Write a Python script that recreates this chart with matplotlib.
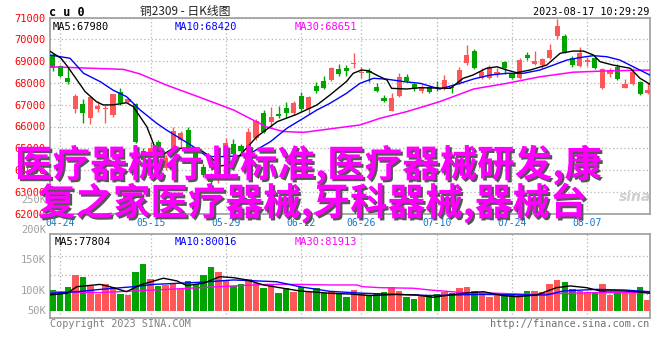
import numpy as np
import pandas as pd
import matplotlib
matplotlib.use("Agg")
from matplotlib import pyplot as plt
from matplotlib import patheffects as pe

# trading calendar (SHFE, closed on May Day and Dragon Boat holidays)
HOLIDAYS = ["2023-05-01", "2023-05-02", "2023-05-03", "2023-06-22", "2023-06-23"]
dates = [d.strftime("%m-%d") for d in pd.bdate_range("2023-04-21", "2023-08-17")
         if d.strftime("%Y-%m-%d") not in HOLIDAYS]
tick_labels = ["04-24", "05-15", "05-29", "06-12", "06-26", "07-10", "07-24", "08-07"]

opens = [69280, 68780, 68240, 66800, 67020, 66380, 66800, 66810, 66530, 67580,
         67140, 67020, 64880, 64770, 65300, 64100, 65030, 65380, 65840, 64770,
         64160, 63780, 63780, 64620, 65180, 65120, 64690, 65460, 66630, 66220,
         66570, 66840, 66610, 67400, 66790, 67860, 68090, 68130, 68620, 68670,
         68870, 68440, 68550, 67800, 67310, 66730, 67400, 68260, 67940, 67640,
         67800, 67800, 67720, 67800, 67980, 68930, 69460, 68240, 68240, 68410,
         68950, 68400, 68240, 69280, 68870, 68820, 69160, 70170, 70150, 69130,
         68790, 68970, 69160, 67780, 68400, 68740, 67780, 67940, 68030, 67550]
highs = [69350, 68820, 68680, 67490, 67260, 67400, 67170, 66990, 67500, 67750,
         67370, 67100, 65000, 65300, 65400, 64700, 65990, 65800, 66000, 64850,
         64300, 63850, 64700, 65460, 65440, 65200, 65920, 66350, 66760, 66910,
         66940, 67140, 67150, 67590, 67420, 68050, 68320, 68720, 68870, 68840,
         69390, 68740, 68670, 67980, 67450, 67520, 68470, 68410, 68010, 67890,
         67860, 68090, 68360, 67900, 68750, 69740, 69540, 68670, 68800, 68670,
         69000, 68450, 69130, 69400, 69450, 69150, 69770, 70930, 70230, 69250,
         69630, 69210, 69200, 68700, 68700, 68850, 68170, 68670, 68100, 67980]
lows = [68560, 68250, 67950, 66620, 66180, 66120, 66650, 66180, 66420, 67000,
        67100, 65230, 64300, 64700, 64600, 64000, 64950, 65070, 64800, 64350,
        63700, 63160, 63390, 64500, 64650, 64800, 64600, 65400, 65700, 66000,
        66380, 66380, 66550, 66700, 66570, 67520, 67700, 68080, 68320, 68320,
        68670, 68210, 68060, 67600, 67140, 66700, 67350, 68050, 67620, 67520,
        67550, 67640, 67680, 67520, 67930, 68820, 68650, 68200, 68180, 68290,
        68400, 68180, 68200, 69050, 68820, 68670, 69100, 70010, 69360, 68750,
        68750, 68790, 68640, 67720, 68290, 68150, 67760, 67900, 67450, 67500]
closes = [68680, 68320, 68060, 67410, 66600, 67370, 66940, 66830, 67480, 67060,
          67280, 65300, 64470, 65000, 64770, 64560, 65790, 65720, 64920, 64460,
          63780, 63470, 64620, 65230, 64730, 64890, 65760, 66270, 65760, 66450,
          66480, 66610, 67090, 66790, 67370, 67640, 67780, 68670, 68410, 68560,
          68930, 68510, 68440, 67640, 67180, 67330, 68260, 68090, 67710, 67800,
          67600, 67750, 68130, 67780, 68590, 69280, 68700, 68490, 68740, 68490,
          68670, 68240, 69050, 69130, 69010, 69100, 69510, 70610, 69430, 68820,
          69360, 69050, 68700, 68640, 68590, 68180, 67950, 68510, 67490, 67670]

# volume (thousand lots)
volumes = [54.5, 47.6, 62.3, 93.5, 88.3, 65.8, 44.2, 69.2, 62.3, 44.2,
           41.6, 101.3, 122.0, 83.1, 64.9, 67.5, 69.2, 56.3, 77.9, 69.2,
           93.5, 114.3, 101.3, 80.5, 64.9, 69.2, 83.1, 73.5, 60.5, 67.5,
           47.6, 60.5, 50.1, 62.3, 50.1, 60.5, 47.6, 50.2, 47.6, 37.2,
           54.5, 45.9, 41.6, 45.9, 50.2, 63.2, 51.9, 37.2, 31.2, 41.6,
           41.6, 43.3, 50.2, 47.6, 60.6, 63.2, 51.9, 45.9, 37.2, 41.6,
           45.9, 41.6, 41.6, 51.9, 51.9, 50.2, 70.1, 80.5, 75.3, 57.1,
           52.8, 50.2, 50.2, 70.1, 41.6, 50.2, 50.2, 45.9, 62.3, 28.6]

# moving averages as drawn on the chart (candle position, value)
ma5_pos = [-0.4, 1.1, 2.0, 4.3, 5.8, 6.7, 8.0, 9.8, 10.7, 12.5, 13.8, 14.9, 16.0, 19.3,
           20.9, 22.2, 23.1, 24.9, 27.1, 29.8, 32.4, 35.1, 36.8, 39.0, 39.9, 41.0, 41.9,
           43.0, 44.4, 45.0, 47.0, 48.8, 52.8, 54.5, 55.8, 57.6, 59.0, 60.3, 61.6, 63.4,
           65.6, 67.4, 69.1, 70.5, 71.8, 72.7, 74.4, 76.7, 78.0, 79.3]
ma5_val = [69460, 69130, 68740, 67600, 67140, 66990, 66990, 67090, 66910, 65990, 64840,
           64770, 65000, 65000, 64620, 64190, 64230, 64690, 65530, 66220, 66560, 66990,
           67440, 68060, 68440, 68590, 68560, 68360, 68130, 67750, 67720, 67780, 67750,
           68210, 68360, 68670, 68740, 68590, 68470, 68590, 68820, 69360, 69460, 69460,
           69280, 68970, 68820, 68670, 68210, 67940]
ma10_pos = [-0.4, 2.3, 4.1, 6.3, 8.0, 9.8, 11.6, 13.8, 15.1, 16.9, 18.7, 20.5, 22.7,
            24.9, 26.6, 28.9, 31.1, 33.3, 35.1, 36.8, 39.0, 40.8, 42.6, 44.4, 46.6, 48.8,
            51.4, 54.1, 55.9, 58.1, 60.3, 62.5, 64.7, 66.5, 68.3, 70.0, 71.8, 73.6, 75.3,
            77.1, 79.3]
ma10_val = [69280, 69130, 68440, 68060, 67670, 67370, 66760, 66150, 65840, 65460, 65070,
            64620, 64620, 64650, 64840, 65300, 65920, 66380, 66760, 67060, 67520, 67980,
            68210, 68170, 68060, 67980, 67720, 67980, 68180, 68360, 68440, 68440, 68590,
            68820, 69050, 69160, 69250, 69200, 69050, 68740, 68360]
ma30_pos = [-0.4, 9.4, 11.6, 15.1, 19.6, 24.0, 27.1, 28.4, 30.6, 33.3, 36.8, 40.8, 43.5,
            47.0, 51.4, 55.9, 60.3, 64.7, 69.1, 73.6, 79.3]
ma30_val = [68740, 68620, 68410, 67900, 67330, 66760, 66210, 65980, 65770, 65730, 65890,
            66070, 66380, 66680, 67140, 67720, 67980, 68280, 68490, 68550, 68590]

vma5_pos = [-0.4, 1.9, 3.2, 6.3, 7.6, 9.8, 11.6, 14.7, 16.5, 17.8, 20.0, 22.2, 24.0, 25.8,
            28.0, 30.6, 32.8, 36.8, 39.5, 42.1, 45.7, 48.3, 50.5, 54.5, 57.2, 59.8, 61.6,
            64.3, 66.9, 68.7, 70.9, 72.7, 75.8, 77.6, 79.3]
vma5_val = [41.6, 46, 63, 69, 63, 50, 67.5, 85, 78, 66, 72, 89, 86.5, 80.5, 67.5, 59, 52,
            46, 44, 40, 43, 41.6, 35.6, 46, 50, 40, 37, 41.6, 60.5, 65, 60.5, 52, 52, 50, 46]
vma10_pos = [-0.4, 3.2, 6.3, 10.7, 13.4, 19.6, 24.0, 29.7, 32.8, 36.8, 41.2, 45.7, 50.1,
             56.7, 63.4, 65.6, 67.8, 72.2, 75.8, 79.3]
vma10_val = [46, 50, 56, 63, 69, 74.5, 80.5, 76, 63, 51, 46, 43, 40, 43, 41.6, 41.6, 52,
             56, 54.5, 50]
vma30_pos = [-0.4, 6.3, 10.7, 15.1, 19.6, 24.0, 28.4, 32.8, 36.8, 40.4, 41.2, 43.5, 47.9,
             50.1, 54.5, 59.0, 63.4, 67.8, 72.2, 79.3]
vma30_val = [50, 47.6, 52, 56, 60.5, 65, 69, 69, 67.5, 67.5, 63, 60.5, 59, 54.5, 47.6, 46,
             43, 46, 47.6, 47.6]

price_ticks = list(range(62000, 71001, 1000))
vol_labels = ["250K", "200K", "150K", "100K", "50K"]

W, H = 660, 360
RED = "#ff5757"
GREEN = "#00a300"
GRID = "#b4b4b4"
FRAME = "#9c9c9c"
MONO = "DejaVu Sans Mono"
CJK = ["Noto Sans CJK SC", "DejaVu Sans"]


def fx(x):
    return x / W


def fy(y):
    return 1 - y / H


def panel(fig, x0, y0, x1, y1):
    ax = fig.add_axes([fx(x0), fy(y1), fx(x1) - fx(x0), (y1 - y0) / H])
    for s in ax.spines.values():
        s.set_color(FRAME)
        s.set_linewidth(1.2)
    ax.set_xlim(-0.36, 79.32)
    return ax


fig = plt.figure(figsize=(6.6, 3.6), dpi=100)
fig.patch.set_facecolor("white")

tick_idx = [dates.index(t) for t in tick_labels]
up = [c >= o for o, c in zip(opens, closes)]
colors = [RED if u else GREEN for u in up]
idx = np.arange(len(closes))

# price panel
ax = panel(fig, 50, 17.5, 650, 213.7)
ax.set_ylim(62000, 71000)
ax.set_yticks(price_ticks)
ax.set_yticklabels([str(v) for v in price_ticks], color="#ff0000", family=MONO, fontsize=7.5)
ax.set_xticks(tick_idx)
ax.set_xticklabels(tick_labels, color="#1477cc", family=MONO, fontsize=7)
ax.tick_params(length=0, pad=3)
ax.grid(True, linestyle=(0, (1, 2)), color=GRID, linewidth=0.9)
ax.set_axisbelow(True)

ax.vlines(idx, lows, highs, colors=colors, linewidth=1, zorder=2)
body = [max(abs(c - o), 35) for o, c in zip(opens, closes)]
ax.bar(idx, body, bottom=np.minimum(opens, closes), width=0.68, color=colors, zorder=3)
ax.plot(ma30_pos, ma30_val, color="#ff00ff", linewidth=1.1, zorder=4)
ax.plot(ma10_pos, ma10_val, color="#0000ff", linewidth=1, zorder=4)
ax.plot(ma5_pos, ma5_val, color="black", linewidth=1, zorder=5)

ax.text(0.005, 0.975, "MA5:67980", transform=ax.transAxes, family=MONO, fontsize=7.5,
        color="black", va="top")
ax.text(0.207, 0.975, "MA10:68420", transform=ax.transAxes, family=MONO, fontsize=7.5,
        color="#0000ff", va="top")
ax.text(0.408, 0.975, "MA30:68651", transform=ax.transAxes, family=MONO, fontsize=7.5,
        color="#ff00ff", va="top")

# volume panel
vax = panel(fig, 50, 234.3, 650, 318.3)
vax.set_ylim(-19, 199)
vax.set_yticks([(311 - y) * 2.597 for y in (255.7, 275, 294.3)])
vax.set_yticklabels([])
vax.set_xticks(tick_idx)
vax.set_xticklabels([])
vax.tick_params(length=0)
vax.grid(True, linestyle=(0, (1, 2)), color=GRID, linewidth=0.9)
vax.set_axisbelow(True)
vax.bar(idx, volumes, width=0.86, color=colors, zorder=3)
vax.plot(vma30_pos, vma30_val, color="#ff00ff", linewidth=1, zorder=4)
vax.plot(vma10_pos, vma10_val, color="#0000ff", linewidth=1, zorder=4)
vax.plot(vma5_pos, vma5_val, color="black", linewidth=1, zorder=5)
vax.text(0.007, 0.97, "MA5:77804", transform=vax.transAxes, family=MONO, fontsize=7.5,
         color="black", va="top")
vax.text(0.208, 0.97, "MA10:80016", transform=vax.transAxes, family=MONO, fontsize=7.5,
         color="#0000ff", va="top")
vax.text(0.408, 0.97, "MA30:81913", transform=vax.transAxes, family=MONO, fontsize=7.5,
         color="#ff00ff", va="top")

for lab, y in zip(vol_labels, (200, 230, 260, 291, 311)):
    fig.text(fx(46), fy(y), lab, ha="right", va="center", family=MONO, fontsize=7.5,
             color="#a0a0a0")

# header and footer texts
fig.text(fx(49), fy(12), "c u 0", family=MONO, fontsize=8.5, weight="bold", va="center")
fig.text(fx(140), fy(11), "铜2309 - 日K线图", family=CJK, fontsize=8.5, color="#222222",
         va="center")
fig.text(fx(649), fy(12), "2023-08-17 10:29:29", family=MONO, fontsize=7.3, ha="right",
         va="center")
fig.text(fx(50), fy(324), "Copyright 2023 SINA.COM", family=MONO, fontsize=7.3,
         color="#808080", va="center")
fig.text(fx(649), fy(324), "http://finance.sina.com.cn", family=MONO, fontsize=7.3,
         color="#707070", ha="right", va="center")
fig.text(fx(635), fy(197), "sina", family="DejaVu Sans", fontsize=10, style="italic",
         weight="bold", color="#cfcfcf", ha="center", va="center")

# overlay caption
shadow = [pe.withSimplePatchShadow(offset=(1.5, -1.5), shadow_rgbFace="#555555", alpha=1)]
fig.text(fx(15), fy(165), "医疗器械行业标准,医疗器械研发,康", family=CJK, fontsize=27,
         weight="bold", color="#ff00ff", va="center", path_effects=shadow, zorder=10)
fig.text(fx(38), fy(203), "复之家医疗器械,牙科器械,器械台", family=CJK, fontsize=27,
         weight="bold", color="#ff00ff", va="center", path_effects=shadow, zorder=10)

fig.savefig("out.png", dpi=100)
